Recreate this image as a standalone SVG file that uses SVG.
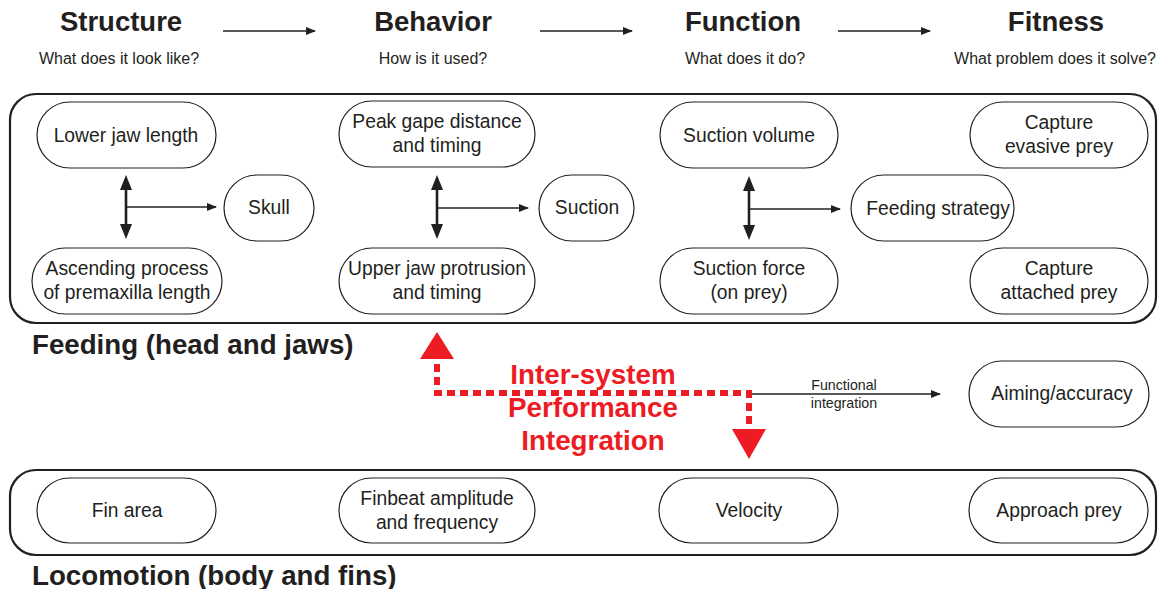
<svg xmlns="http://www.w3.org/2000/svg" width="1158" height="589" viewBox="0 0 1158 589">
<style>
.h{font-family:"Liberation Sans",Arial,sans-serif;font-weight:bold;font-size:27.5px;fill:#231f20;text-anchor:middle}
.s{font-family:"Liberation Sans",Arial,sans-serif;font-size:16px;fill:#231f20;text-anchor:middle}
.n{font-family:"Liberation Sans",Arial,sans-serif;font-size:19.3px;fill:#231f20;text-anchor:middle}
.p{font-family:"Liberation Sans",Arial,sans-serif;font-weight:bold;font-size:27.7px;fill:#231f20}
.r{font-family:"Liberation Sans",Arial,sans-serif;font-weight:bold;font-size:27.8px;fill:#ed1c24;text-anchor:middle}
.sm{font-family:"Liberation Sans",Arial,sans-serif;font-size:14.2px;fill:#231f20;text-anchor:middle}
.pill{fill:#fff;stroke:#231f20;stroke-width:1.2}
.panel{fill:none;stroke:#231f20;stroke-width:2.2}
.thin{stroke:#231f20;stroke-width:1.3;fill:none}
.thick{stroke:#231f20;stroke-width:2.6;fill:none}
.dot{stroke:#ed1c24;stroke-width:6;fill:none;stroke-dasharray:8 5}
</style>
<defs>
<marker id="ah" markerWidth="10" markerHeight="8" refX="9" refY="4" orient="auto" markerUnits="userSpaceOnUse">
<path d="M0,0 L10,4 L0,8 Z" fill="#231f20"/>
</marker>
</defs>

<g id="headers">
<text class="h" x="121" y="31">Structure</text>
<text class="h" x="433" y="31">Behavior</text>
<text class="h" x="743" y="31">Function</text>
<text class="h" x="1056" y="31">Fitness</text>
<text class="s" x="119" y="64">What does it look like?</text>
<text class="s" x="433" y="64">How is it used?</text>
<text class="s" x="745" y="64">What does it do?</text>
<text class="s" x="1055" y="64">What problem does it solve?</text>
</g>

<g id="panels">
<rect class="panel" x="10" y="94" width="1146" height="229" rx="26"/>
<rect class="panel" x="10" y="470" width="1146" height="85" rx="26"/>
<text class="p" x="32" y="354">Feeding (head and jaws)</text>
<text class="p" x="32" y="585">Locomotion (body and fins)</text>
</g>

<g id="connectors">
<line class="thin" x1="223" y1="31" x2="315" y2="31" marker-end="url(#ah)"/>
<line class="thin" x1="540" y1="31" x2="632" y2="31" marker-end="url(#ah)"/>
<line class="thin" x1="838" y1="31" x2="930" y2="31" marker-end="url(#ah)"/>

<line class="thick" x1="126" y1="190" x2="126" y2="225"/>
<path d="M126,175 L120,190 L132,190 Z M126,239 L120,224 L132,224 Z" fill="#231f20"/>
<line class="thin" x1="126" y1="207" x2="216" y2="207" marker-end="url(#ah)"/>

<line class="thick" x1="437" y1="190" x2="437" y2="225"/>
<path d="M437,175 L431,190 L443,190 Z M437,239 L431,224 L443,224 Z" fill="#231f20"/>
<line class="thin" x1="437" y1="208" x2="528" y2="208" marker-end="url(#ah)"/>

<line class="thick" x1="749" y1="191" x2="749" y2="226"/>
<path d="M749,176 L743,191 L755,191 Z M749,240 L743,225 L755,225 Z" fill="#231f20"/>
<line class="thin" x1="749" y1="209" x2="840" y2="209" marker-end="url(#ah)"/>

<line class="thin" x1="749" y1="394" x2="940" y2="394" marker-end="url(#ah)"/>
<text class="sm" x="844" y="390">Functional</text>
<text class="sm" x="844" y="408">integration</text>

<path class="dot" d="M437,364 L437,393 L749,393 L749,426"/>
<path d="M437,332 L420,359 L454,359 Z" fill="#ed1c24"/>
<path d="M749,459 L732,429 L766,429 Z" fill="#ed1c24"/>
</g>

<g id="integration-label">
<text class="r" x="593" y="384">Inter-system</text>
<text class="r" x="593" y="417">Performance</text>
<text class="r" x="593" y="450">Integration</text>
</g>

<g id="lower-jaw"><rect class="pill" x="37" y="102" width="179" height="66" rx="33"/><text class="n" x="126" y="142">Lower jaw length</text></g>
<g id="ascending"><rect class="pill" x="32" y="248" width="190" height="66" rx="33"/><text class="n" x="127" y="275">Ascending process</text><text class="n" x="127" y="299">of premaxilla length</text></g>
<g id="skull"><rect class="pill" x="224" y="175" width="90" height="66" rx="33"/><text class="n" x="269" y="214">Skull</text></g>
<g id="peak-gape"><rect class="pill" x="339" y="101" width="196" height="66" rx="33"/><text class="n" x="437" y="128">Peak gape distance</text><text class="n" x="437" y="152">and timing</text></g>
<g id="upper-jaw"><rect class="pill" x="339" y="248" width="196" height="66" rx="33"/><text class="n" x="437" y="275">Upper jaw protrusion</text><text class="n" x="437" y="299">and timing</text></g>
<g id="suction"><rect class="pill" x="539" y="175" width="95" height="66" rx="33"/><text class="n" x="587" y="214">Suction</text></g>
<g id="suction-volume"><rect class="pill" x="660" y="102" width="178" height="66" rx="33"/><text class="n" x="749" y="142">Suction volume</text></g>
<g id="suction-force"><rect class="pill" x="660" y="248" width="178" height="66" rx="33"/><text class="n" x="749" y="275">Suction force</text><text class="n" x="749" y="299">(on prey)</text></g>
<g id="feeding-strategy"><rect class="pill" x="851" y="175" width="163" height="66" rx="33"/><text class="n" x="938" y="215">Feeding strategy</text></g>
<g id="capture-evasive"><rect class="pill" x="970" y="102" width="178" height="66" rx="33"/><text class="n" x="1059" y="129">Capture</text><text class="n" x="1059" y="153">evasive prey</text></g>
<g id="capture-attached"><rect class="pill" x="970" y="248" width="178" height="66" rx="33"/><text class="n" x="1059" y="275">Capture</text><text class="n" x="1059" y="299">attached prey</text></g>
<g id="aiming"><rect class="pill" x="969" y="361" width="180" height="66" rx="33"/><text class="n" x="1062" y="400">Aiming/accuracy</text></g>
<g id="fin-area"><rect class="pill" x="37" y="478" width="179" height="65" rx="32.5"/><text class="n" x="127" y="517">Fin area</text></g>
<g id="finbeat"><rect class="pill" x="339" y="478" width="196" height="65" rx="32.5"/><text class="n" x="437" y="505">Finbeat amplitude</text><text class="n" x="437" y="529">and frequency</text></g>
<g id="velocity"><rect class="pill" x="659" y="478" width="179" height="65" rx="32.5"/><text class="n" x="749" y="517">Velocity</text></g>
<g id="approach"><rect class="pill" x="969" y="478" width="179" height="65" rx="32.5"/><text class="n" x="1059" y="517">Approach prey</text></g>
</svg>
